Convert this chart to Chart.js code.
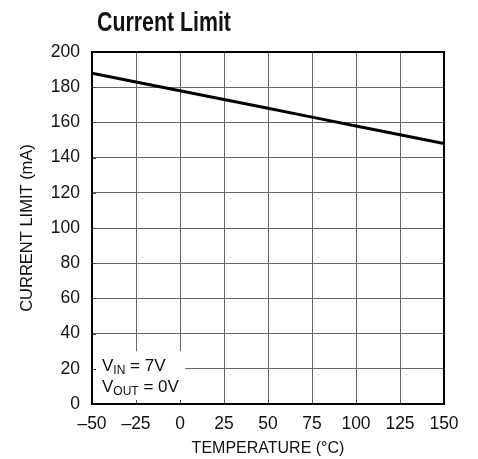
<!DOCTYPE html>
<html>
<head>
<meta charset="utf-8">
<script src="https://cdn.jsdelivr.net/npm/chart.js@4/dist/chart.umd.min.js"></script>
<style>
  html, body { margin: 0; padding: 0; background: #fff; }
  #wrap { width: 478px; height: 459px; position: relative; }
</style>
</head>
<body>
<div id="wrap"><canvas id="c" width="478" height="459"></canvas></div>
<script>
// ---- data ----
const temperatures = [-50, -25, 0, 25, 50, 75, 100, 125, 150];
const currentLimit = [188, 183, 178, 173, 168, 163, 158, 153, 148];
const xTicks = [-50, -25, 0, 25, 50, 75, 100, 125, 150];
const yTicks = [0, 20, 40, 60, 80, 100, 120, 140, 160, 180, 200];
const chartTitle = 'Current Limit';
const xTitle = 'TEMPERATURE (°C)';
const yTitle = 'CURRENT LIMIT (mA)';
const noteLines = [['V', 'IN', ' = 7V'], ['V', 'OUT', ' = 0V']];

const FONT = '"Liberation Sans", Arial, sans-serif';

const points = temperatures.map((t, i) => ({ x: t, y: currentLimit[i] }));

const extras = {
  id: 'extras',
  beforeDatasetsDraw(chart) {
    const { ctx, chartArea: a, scales: { x, y } } = chart;
    // white note box covering gridlines in lower-left corner
    const x1 = x.getPixelForValue(3);
    const y1 = y.getPixelForValue(30);
    ctx.save();
    ctx.fillStyle = '#fff';
    ctx.fillRect(a.left, y1, x1 - a.left, a.bottom - y1);
    // small inward ticks
    ctx.strokeStyle = '#444';
    ctx.lineWidth = 1;
    ctx.beginPath();
    yTicks.forEach(v => {
      const py = Math.round(y.getPixelForValue(v)) + 0.5;
      ctx.moveTo(a.left, py); ctx.lineTo(a.left + 4, py);
    });
    xTicks.forEach(v => {
      const px = Math.round(x.getPixelForValue(v)) + 0.5;
      ctx.moveTo(px, a.bottom); ctx.lineTo(px, a.bottom - 4);
    });
    ctx.stroke();
    // note text
    ctx.fillStyle = '#111';
    ctx.textBaseline = 'alphabetic';
    ctx.textAlign = 'left';
    noteLines.forEach((ln, i) => {
      let px = a.left + 10;
      const base = a.bottom - 33 + i * 21;
      ctx.font = '17px ' + FONT;
      ctx.fillText(ln[0], px, base);
      px += ctx.measureText(ln[0]).width;
      ctx.font = '12px ' + FONT;
      ctx.fillText(ln[1], px, base + 3);
      px += ctx.measureText(ln[1]).width;
      ctx.font = '17px ' + FONT;
      ctx.fillText(ln[2], px, base);
    });
    ctx.restore();
  },
  afterDraw(chart) {
    const { ctx, chartArea: a } = chart;
    ctx.save();
    ctx.strokeStyle = '#000';
    ctx.lineWidth = 2;
    ctx.strokeRect(a.left, a.top, a.right - a.left, a.bottom - a.top);
    // condensed bold title
    ctx.fillStyle = '#111';
    ctx.font = 'bold 27px ' + FONT;
    ctx.textAlign = 'left';
    ctx.textBaseline = 'alphabetic';
    ctx.translate(97, 31);
    ctx.scale(0.79, 1);
    ctx.fillText(chartTitle, 0, 0);
    ctx.restore();
  }
};

new Chart(document.getElementById('c'), {
  type: 'line',
  data: {
    datasets: [{
      data: points,
      borderColor: '#000',
      borderWidth: 3,
      pointRadius: 0,
      tension: 0,
      fill: false
    }]
  },
  options: {
    responsive: false,
    animation: false,
    devicePixelRatio: 1,
    layout: { padding: { left: 0, right: 34, top: 52, bottom: 0 } },
    plugins: { legend: { display: false }, tooltip: { enabled: false }, title: { display: false } },
    scales: {
      x: {
        type: 'linear',
        min: -50, max: 150,
        afterBuildTicks(s) { s.ticks = xTicks.map(v => ({ value: v })); },
        afterFit(s) { s.height = 55; },
        grid: { color: '#666', lineWidth: 1, drawTicks: false },
        border: { display: true, color: '#000', width: 2 },
        ticks: {
          color: '#111',
          padding: 10,
          font: { family: FONT, size: 17.5 },
          maxRotation: 0,
          callback: v => String(v).replace('-', '\u2013')
        },
        title: {
          display: true, text: xTitle, color: '#111',
          font: { family: FONT, size: 16 },
          padding: { top: 0, bottom: 1 }
        }
      },
      y: {
        min: 0, max: 200,
        afterBuildTicks(s) { s.ticks = yTicks.map(v => ({ value: v })); },
        afterFit(s) { s.width = 92; },
        grid: { color: '#666', lineWidth: 1, drawTicks: false },
        border: { display: true, color: '#000', width: 2 },
        ticks: {
          color: '#111',
          padding: 12,
          font: { family: FONT, size: 17.5 }
        },
        title: {
          display: true, text: yTitle, color: '#111',
          font: { family: FONT, size: 16.5 },
          padding: { top: 18, bottom: 18 }
        }
      }
    }
  },
  plugins: [extras]
});
</script>
</body>
</html>
